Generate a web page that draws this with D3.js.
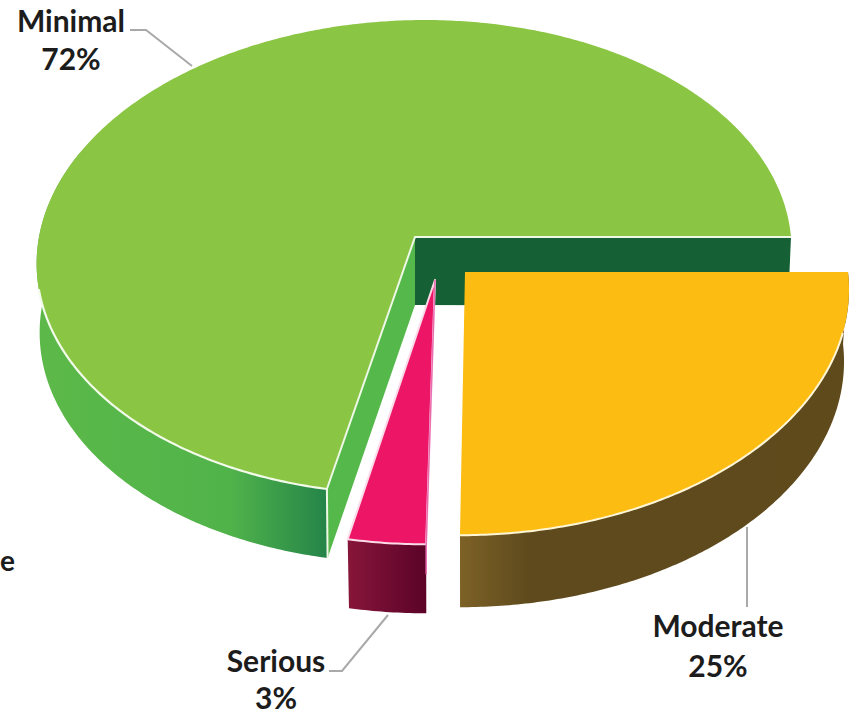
<!DOCTYPE html>
<html><head><meta charset="utf-8">
<script src="https://cdn.jsdelivr.net/npm/d3@7"></script>
<style>html,body{margin:0;padding:0;background:#fff;overflow:hidden}text{font-family:Lato,"Open Sans",sans-serif;font-weight:700;fill:#1c1c1c}</style>
</head><body><svg id="c" width="856" height="715"></svg>
<script>
const categories = ["Moderate", "Serious", "Minimal"];
const values = [25, 3, 72];
const percentLabels = ["25%", "3%", "72%"];
const topColors = ["#fdbc12", "#ed1666", "#8bc544"];

const svg = d3.select("#c");
const defs = svg.append("defs");
const grads = {
  wallMinimal: [[40, "#5cb949"], [230, "#50b34a"], [326, "#258549"]],
  wallModerate: [[460, "#7d6126"], [530, "#5e4a1d"], [850, "#5f4a1c"]],
  wallSerious: [[347, "#87163a"], [425, "#5c0328"]]
};
Object.entries(grads).forEach(([id, stops]) => {
  const g = defs.append("linearGradient").attr("id", id).attr("gradientUnits", "userSpaceOnUse")
    .attr("x1", stops[0][0]).attr("x2", stops[stops.length - 1][0]).attr("y1", 0).attr("y2", 0);
  const sc = d3.scaleLinear().domain([stops[0][0], stops[stops.length - 1][0]]).range([0, 1]);
  stops.forEach(s => g.append("stop").attr("offset", sc(s[0])).attr("stop-color", s[1]));
});

// perspective projection of the pie disc
const Q = 0.0844;
const slices = d3.pie().sort(null).startAngle(0).endAngle(2 * Math.PI)(values);
const geo = {
  Moderate: {cx: 465, cy: 272, rx: 383, ry: 241, depth: 72, shear: -0.012, low: 0.987},
  Serious:  {cx: 435, cy: 280, rx: 385, ry: 242, depth: 69, shear: -0.021, low: 0.985},
  Minimal:  {cx: 415, cy: 237, rx: 376, ry: 235.3, depth: 69, shear: -0.028, low: 0.992}
};
function proj(g, t, low) {
  const px = Math.cos(t), py = Math.sin(t), w = 1 - Q * py, k = low ? g.low : 1;
  return [g.cx + k * g.rx * (px + g.shear * py) / w, g.cy + g.ry * py / w + (low ? g.depth : 0)];
}
const line = d3.line();
function rim(g, a, b, low) {
  const n = Math.max(2, Math.ceil(Math.abs(b - a) / 0.01));
  return d3.range(n + 1).map(i => proj(g, a + (b - a) * i / n, low));
}
const close = pts => line(pts) + "Z";

const ln = svg.append("g").attr("fill", "none").attr("stroke", "#a9a9a9").attr("stroke-width", 2);
const layer = svg.append("g");
const sl = Object.fromEntries(categories.map((c, i) => [c, slices[i]]));

// Minimal: walls
{
  const g = geo.Minimal, s = sl.Minimal;
  const apexLow = [g.cx, g.cy + g.depth - 1];
  layer.append("path").attr("d", close([[g.cx, g.cy], proj(g, s.endAngle), proj(g, s.endAngle, true), apexLow])).attr("fill", "#166035");
  layer.append("path").attr("d", close([[g.cx, g.cy], proj(g, s.startAngle), proj(g, s.startAngle, true), apexLow])).attr("fill", "#55b84a");
  const a = s.startAngle, b = Math.PI * 1.12;
  layer.append("path").attr("d", close(rim(g, a, b).concat(rim(g, b, a, true)))).attr("fill", "url(#wallMinimal)");
  layer.append("path").attr("d", line([proj(g, a), proj(g, a, true)])).attr("stroke", "#eef8e6").attr("stroke-width", 2);
  layer.append("path").attr("d", close([[g.cx, g.cy]].concat(rim(g, s.startAngle, s.endAngle)))).attr("fill", topColors[2]);
  layer.append("path").attr("d", line(rim(g, Math.PI * 0.93, a))).attr("fill", "none").attr("stroke", "#f2fae9").attr("stroke-width", 2.2);
  layer.append("path").attr("d", line([proj(g, s.endAngle), [g.cx, g.cy], proj(g, a)])).attr("fill", "none").attr("stroke", "#eef8e6").attr("stroke-width", 2);
}
// Serious
{
  const g = geo.Serious, s = sl.Serious;
  const a = s.startAngle, b = s.endAngle;
  const e = proj(g, a);
  layer.append("path").attr("d", close(rim(g, a, b).concat(rim(g, b, a, true)))).attr("fill", "url(#wallSerious)");
  layer.append("path").attr("d", close([[g.cx, g.cy]].concat(rim(g, a, b))))
    .attr("fill", topColors[1]).attr("stroke", "#fbdbe7").attr("stroke-width", 2).attr("stroke-linejoin", "round");
  layer.append("path").attr("d", line([[g.cx, g.cy], e, [e[0], e[1] + 30]])).attr("fill", "none").attr("stroke", "#ea6cb0").attr("stroke-width", 1.5);
}
// Moderate
{
  const g = geo.Moderate, s = sl.Moderate;
  const a = s.startAngle, b = s.endAngle;
  layer.append("path").attr("d", close(rim(g, a, b).concat(rim(g, b, a, true)))).attr("fill", "url(#wallModerate)");
  layer.append("path").attr("d", close([[g.cx, g.cy]].concat(rim(g, a, b)))).attr("fill", topColors[0]);
  layer.append("path").attr("d", line(rim(g, 0.25, b))).attr("fill", "none").attr("stroke", "#fff6d5").attr("stroke-width", 2);
}

// leader lines
const leaders = [
  [[130, 30], [146, 30], [192, 66]],
  [[747, 527], [747, 607]],
  [[329, 671], [342, 671], [388, 615]]
];
leaders.forEach(p => ln.append("path").attr("d", line(p)));

// labels
const labelAt = {Minimal: [71, 32, 70], Moderate: [718, 637, 677], Serious: [276, 672, 709]};
categories.forEach((c, i) => {
  const [x, y1, y2] = labelAt[c];
  svg.append("text").attr("x", x).attr("y", y1).attr("text-anchor", "middle").attr("font-size", 30).text(c);
  svg.append("text").attr("x", x).attr("y", y2).attr("text-anchor", "middle").attr("font-size", 30).text(percentLabels[i]);
});
svg.append("text").attr("x", 0).attr("y", 571).attr("font-size", 28).text("e");
</script></body></html>
